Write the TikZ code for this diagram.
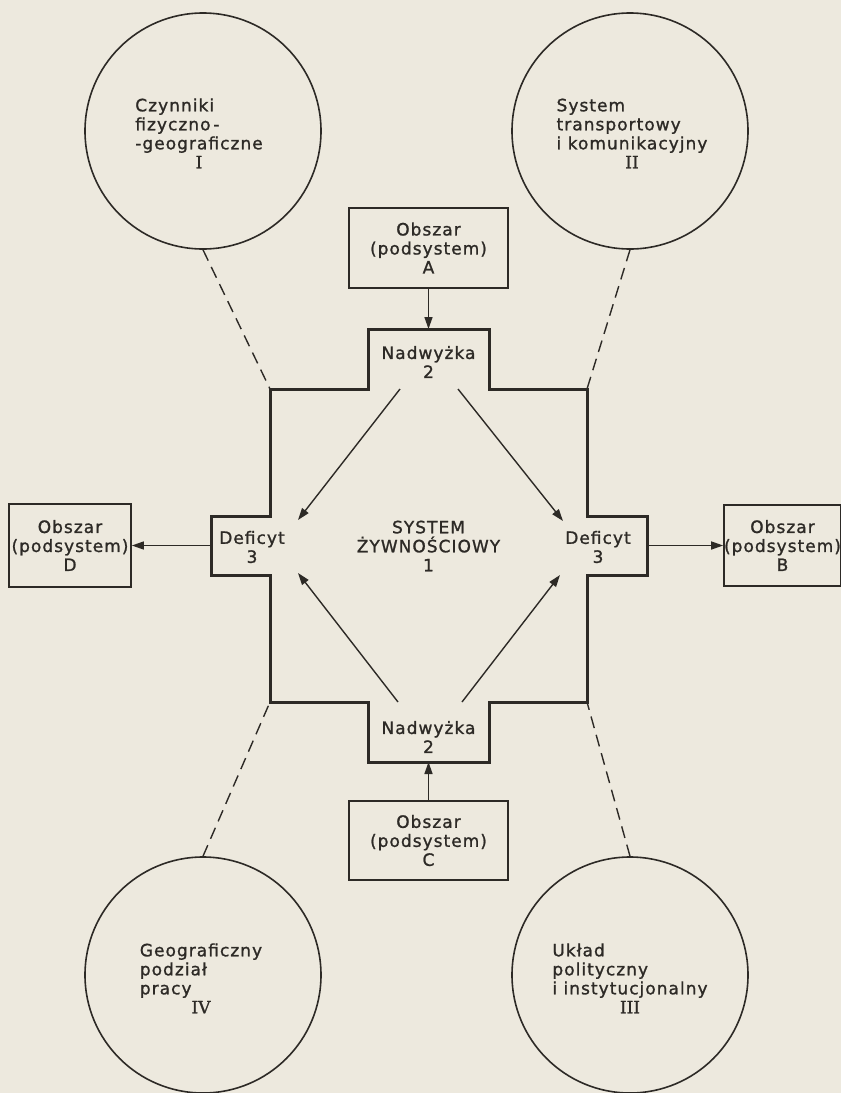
\documentclass[tikz,border=0pt]{standalone}
\usepackage{fontspec}
\setmainfont{DejaVu Sans}[LetterSpace=6,FakeBold=1.2]
\newfontfamily\numfont{DejaVu Serif}[FakeBold=1.2]
\usetikzlibrary{arrows.meta}
\definecolor{paper}{RGB}{237,233,222}
\definecolor{ink}{RGB}{45,42,38}
\begin{document}
\begin{tikzpicture}[x=1pt,y=-1pt,
  font=\fontsize{17}{19}\selectfont,
  every node/.style={text=ink},
  circ/.style={draw=ink, line width=1.6pt, circle, minimum size=236pt, inner sep=0pt},
  ctext/.style={inner sep=0pt},
  box/.style={draw=ink, line width=1.7pt, rectangle, align=center, inner sep=0pt},
  thinarrow/.style={draw=ink, line width=1.4pt, -{Triangle[length=12pt,width=8pt]}},
  dashlink/.style={draw=ink, line width=1.4pt, dash pattern=on 12pt off 7pt},
  crossline/.style={draw=ink, line width=3pt, line join=miter},
  lbl/.style={align=center, inner sep=0pt}
]
\fill[paper] (0,0) rectangle (841,1093);
\useasboundingbox (0,0) rectangle (841,1093);

% cross (food system)
\draw[crossline] (368,329) -- (489,329) -- (489,389) -- (587,389) -- (587,516)
  -- (647,516) -- (647,575) -- (587,575) -- (587,702) -- (489,702) -- (489,762)
  -- (368,762) -- (368,702) -- (270,702) -- (270,575) -- (211,575) -- (211,516)
  -- (270,516) -- (270,389) -- (368,389) -- cycle;
\coordinate (cTL) at (270,389);
\coordinate (cTR) at (587,389);
\coordinate (cBL) at (270,702);
\coordinate (cBR) at (587,702);
\coordinate (armT) at (428.5,329);
\coordinate (armB) at (428.5,762);
\coordinate (armL) at (211,545.5);
\coordinate (armR) at (647,545.5);

% labels in cross
\node[lbl] (nadT) at (428.5,362) {Nadwyżka\\2};
\node[lbl] (nadB) at (428.5,737) {Nadwyżka\\2};
\node[lbl] (defL) at (252,547) {Deficyt\\3};
\node[lbl] (defR) at (598,547) {Deficyt\\3};
\node[lbl] (sys) at (428.5,546) {SYSTEM\\ŻYWNOŚCIOWY\\1};

% area boxes
\node[box, minimum width=159pt, minimum height=80pt] (boxA) at (428.5,248) {Obszar\\(podsystem)\\A};
\node[box, minimum width=159pt, minimum height=79pt] (boxC) at (428.5,840.5) {Obszar\\(podsystem)\\C};
\node[box, minimum width=122pt, minimum height=83pt] (boxD) at (70,545.5) {Obszar\\(podsystem)\\D};
\node[box, minimum width=113pt, minimum height=81pt] (boxB) at (782.5,545.5) {Obszar\\(podsystem)\\B};

% factor circles
\node[circ] (cI) at (203,131) {};
\node[circ] (cII) at (630,131) {};
\node[circ] (cIV) at (203,975) {};
\node[circ] (cIII) at (630,975) {};
\node[ctext] (tI) at ([xshift=-4pt,yshift=-5pt]cI.center) {\begin{tabular}{@{}l@{}}Czynniki\\fizyczno\,-\\-geograficzne\\\multicolumn{1}{@{}c@{}}{\numfont I}\end{tabular}};
\node[ctext] (tII) at ([xshift=2pt,yshift=-5pt]cII.center) {\begin{tabular}{@{}l@{}}System\\transportowy\\i komunikacyjny\\\multicolumn{1}{@{}c@{}}{\numfont II}\end{tabular}};
\node[ctext] (tIV) at ([xshift=-2pt,yshift=-6pt]cIV.center) {\begin{tabular}{@{}l@{}}Geograficzny\\podział\\pracy\\\multicolumn{1}{@{}c@{}}{\numfont IV}\end{tabular}};
\node[ctext] (tIII) at ([yshift=-6pt]cIII.center) {\begin{tabular}{@{}l@{}}Układ\\polityczny\\i instytucjonalny\\\multicolumn{1}{@{}c@{}}{\numfont III}\end{tabular}};

% dashed links
\draw[dashlink] (cI.south) -- (cTL);
\draw[dashlink] (cII.south) -- (cTR);
\draw[dashlink] (cIV.north) -- (cBL);
\draw[dashlink] (cIII.north) -- (cBR);

% straight arrows
\draw[thinarrow] (boxA.south) -- (armT);
\draw[thinarrow] (boxC.north) -- (armB);
\draw[thinarrow] (armL) -- (boxD.east);
\draw[thinarrow] (armR) -- (boxB.west);

% diagonal arrows from surplus to deficit
\coordinate (sTL) at (400,389);
\coordinate (sTR) at (458,389);
\coordinate (sBL) at (398,702);
\coordinate (sBR) at (462,702);
\coordinate (dTL) at (298,520);
\coordinate (dTR) at (563,521);
\coordinate (dBL) at (298,573);
\coordinate (dBR) at (560,575);
\draw[thinarrow] (sTL) -- (dTL);
\draw[thinarrow] (sTR) -- (dTR);
\draw[thinarrow] (sBL) -- (dBL);
\draw[thinarrow] (sBR) -- (dBR);
\end{tikzpicture}
\end{document}
